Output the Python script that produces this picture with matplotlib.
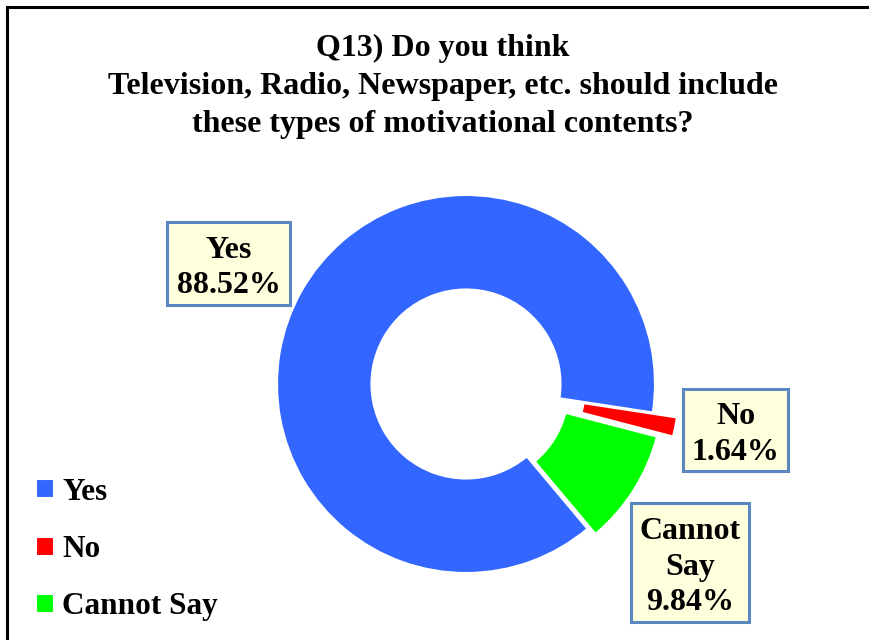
import matplotlib
matplotlib.use("Agg")
import matplotlib.pyplot as plt
from matplotlib.patches import Rectangle

categories = ["Yes", "No", "Cannot Say"]
values = [88.52, 1.64, 9.84]
colors = ["#3366FF", "#FF0000", "#00FF00"]
explode = [0.0, 0.13, 0.05]
title = "Q13) Do you think\nTelevision, Radio, Newspaper, etc. should include\nthese types of motivational contents?"

W, H = 869, 640
plt.rcParams['font.family'] = ['Liberation Serif', 'DejaVu Serif']
plt.rcParams['font.weight'] = 'bold'

fig = plt.figure(figsize=(W / 100, H / 100), dpi=100)

def fx(x):
    return x / W

def fy(y):
    return 1 - y / H

# border (left and top visible)
fig.patches.append(Rectangle((fx(7), fy(700)), fx(900) - fx(7), fy(7) - fy(700),
                             transform=fig.transFigure, fill=False,
                             edgecolor='black', linewidth=2.2))

# pie axes: center (466,384), radius 189 px
cx, cy, r = 466, 384, 189
ax = fig.add_axes([fx(cx - r), fy(cy + r), 2 * r / W, 2 * r / H])
wedges, _ = ax.pie(values, colors=colors, explode=explode, startangle=-50,
                   counterclock=False, radius=1.0,
                   wedgeprops=dict(width=0.5, edgecolor='white', linewidth=1.5))
for w in wedges:
    w.set_clip_on(False)
ax.set_xlim(-1, 1)
ax.set_ylim(-1, 1)
ax.set_aspect('equal')
ax.axis('off')

# title
fig.text(fx(443), fy(86.5), title, ha='center', va='center', fontsize=23,
         fontweight='bold', linespacing=1.39)

# data label boxes (left, top, right, bottom in px)
boxes = [(167, 222, 290, 305), (683, 389, 788, 471), (631, 503, 749, 622)]
for cat, val, (x0, y0, x1, y1) in zip(categories, values, boxes):
    fig.patches.append(Rectangle((fx(x0), fy(y1)), fx(x1) - fx(x0), fy(y0) - fy(y1),
                                 transform=fig.transFigure, facecolor='#FFFFDD',
                                 edgecolor='#5B87C0', linewidth=2.2))
    label = cat.replace(" ", "\n") + "\n" + f"{val:.2f}%"
    fig.text(fx((x0 + x1) / 2), fy((y0 + y1) / 2 + 4.5), label, ha='center', va='center',
             fontsize=23, fontweight='bold', linespacing=1.3)

# legend
fig.legend(wedges, categories, loc='upper left',
           bbox_to_anchor=(fx(36), fy(478)), frameon=False,
           prop=dict(family='Liberation Serif', weight='bold', size=22.5),
           handlelength=0.56, handleheight=0.56, handletextpad=0.28,
           labelspacing=0.9, borderpad=0, borderaxespad=0)

fig.savefig("out.png", dpi=100)
